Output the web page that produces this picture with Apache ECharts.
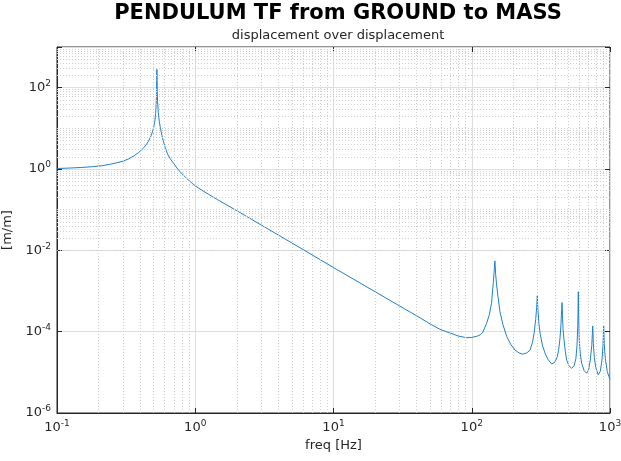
<!DOCTYPE html>
<html lang="en">
<head>
    <meta charset="UTF-8">
    <title>PENDULUM TF</title>
    <script src="https://cdn.jsdelivr.net/npm/echarts@6/dist/echarts.min.js"></script>
    <style>
        body { margin: 0; background: #ffffff; }
    </style>
</head>
<body>
    <div id="chart" style="width: 621px; height: 461px;"></div>

    <script>
        // frequency [Hz] and magnitude [m/m]
        const freq = [
            0.1, 0.12, 0.15, 0.18, 0.21, 0.24, 0.27, 0.3, 0.33, 0.36, 0.39, 0.42, 0.44, 0.46, 0.48, 0.49,
            0.5, 0.51, 0.517, 0.522, 0.525, 0.527, 0.528, 0.529, 0.531, 0.534, 0.54, 0.55, 0.56, 0.575,
            0.59, 0.61, 0.63, 0.66, 0.7, 0.75, 0.8, 0.87, 0.95, 1.0, 1.1, 1.25, 1.45, 1.7,
            2, 3, 5, 10, 20, 30, 40, 50, 59, 70, 80, 92, 100, 110, 115, 120, 128, 134, 139, 143, 145, 147,
            149, 151, 155, 160, 168, 179, 192, 206, 220, 233, 250, 264, 275, 283, 290, 295, 298,
            301, 306, 312, 325, 339, 355, 379, 400, 415, 425, 435, 442, 447, 450,
            453, 458, 465, 475, 486, 505, 528, 550, 567, 577, 585, 590,
            594, 600, 610, 624, 650, 678, 700, 720, 738, 750,
            758, 770, 790, 822, 850, 875, 890, 900, 908, 925, 955, 980, 1000
        ];
        const mag = [
            1.03, 1.05, 1.09, 1.14, 1.2, 1.3, 1.42, 1.55, 1.78, 2.1, 2.55, 3.2, 3.9, 4.9, 6.6, 8.2,
            10.5, 15, 23, 40, 75, 150, 280, 160, 80, 45, 25, 14.5, 10, 6.5,
            4.6, 3.2, 2.35, 1.78, 1.35, 0.98, 0.77, 0.58, 0.445, 0.385, 0.31, 0.238, 0.176, 0.129,
            0.094, 0.042, 0.0152, 3.77e-3, 9.6e-4, 4.3e-4, 2.45e-4, 1.55e-4, 1.14e-4, 9.2e-5, 7.8e-5, 7.1e-5, 7.2e-5, 7.8e-5, 8.3e-5, 9.5e-5, 1.6e-4, 2.6e-4, 5e-4, 1.55e-3, 2.8e-3, 5.5e-3,
            2.5e-3, 1.5e-3, 7e-4, 3.1e-4, 1.5e-4, 7.6e-5, 4.8e-5, 3.5e-5, 3e-5, 2.8e-5, 3e-5, 3.5e-5, 5.5e-5, 9.5e-5, 2e-4, 4e-4, 7.6e-4,
            3.5e-4, 1.6e-4, 9.1e-5, 4.5e-5, 2.95e-5, 2.1e-5, 1.6e-5, 1.8e-5, 2.4e-5, 3.5e-5, 7e-5, 1.5e-4, 3.5e-4, 5.2e-4,
            2.5e-4, 1.1e-4, 6.3e-5, 3.3e-5, 2e-5, 1.45e-5, 1.26e-5, 1.45e-5, 2.2e-5, 4.5e-5, 1.4e-4, 9.6e-4,
            2e-4, 6e-5, 2.8e-5, 1.67e-5, 1.1e-5, 9.5e-6, 1.15e-5, 2e-5, 4.5e-5, 1.38e-4,
            5e-5, 2.3e-5, 1.3e-5, 8.7e-6, 1.05e-5, 2e-5, 4.5e-5, 1.38e-4, 5e-5, 2.2e-5, 1.05e-5, 8e-6, 6.8e-6
        ];

        const xRange = [0.1, 1000];
        const yRange = [1e-6, 1e3];

        // minor grid: 2..9 within every decade, plus odd decades on y
        const minorX = [];
        for (let d = -1; d < 3; d++) {
            for (let k = 2; k <= 9; k++) minorX.push(k * Math.pow(10, d));
        }
        const minorY = [];
        for (let d = -6; d < 3; d++) {
            for (let k = 1; k <= 9; k++) {
                if (k === 1 && d % 2 === 0) continue;
                minorY.push(k * Math.pow(10, d));
            }
        }

        const font = 'DejaVu Sans';
        const ink = '#262626';

        function powLabel(v) {
            const e = Math.round(Math.log10(v));
            return '10{s|' + e + '}';
        }
        const supRich = { s: { fontFamily: font, fontSize: 9, verticalAlign: 'bottom', padding: [0, 0, 8, 0], color: ink } };

        // mirror axes on top / right, ticks only (box look)
        function mirror(extra) {
            return Object.assign({
                type: 'log', logBase: 10,
                axisLine: { show: false },
                axisTick: { inside: true, length: 5, lineStyle: { color: ink } },
                axisLabel: { show: false },
                splitLine: { show: false }
            }, extra);
        }

        const chart = echarts.init(document.getElementById('chart'));

        const option = {
            animation: false,
            title: [
                {
                    text: 'PENDULUM TF from GROUND to MASS',
                    left: 333, top: -2, textAlign: 'center',
                    textStyle: { fontFamily: font, fontSize: 21, fontWeight: 'bold', color: '#000000' }
                },
                {
                    text: 'displacement over displacement',
                    left: 333, top: 24, textAlign: 'center',
                    textStyle: { fontFamily: font, fontSize: 13, fontWeight: 'normal', color: ink }
                }
            ],
            grid: {
                left: 57, right: 11, top: 47, bottom: 48,
                outerBoundsMode: 'none',
                show: true, borderColor: ink, borderWidth: 1
            },
            xAxis: [
                {
                    type: 'log', logBase: 10,
                    min: xRange[0], max: xRange[1],
                    interval: 1,
                    name: 'freq [Hz]', nameLocation: 'middle', nameGap: 26,
                    nameTextStyle: { fontFamily: font, fontSize: 13, color: ink },
                    axisLine: { lineStyle: { color: ink } },
                    axisTick: { inside: true, length: 5, lineStyle: { color: ink } },
                    axisLabel: {
                        fontFamily: font, fontSize: 13, color: ink, margin: 6,
                        formatter: powLabel,
                        rich: supRich
                    },
                    splitLine: { show: true, lineStyle: { color: '#dedede', width: 1 } }
                },
                mirror({ position: 'top', min: xRange[0], max: xRange[1], interval: 1 })
            ],
            yAxis: [
                {
                    type: 'log', logBase: 10,
                    min: yRange[0], max: yRange[1],
                    interval: 2,
                    name: '[m/m]', nameLocation: 'middle', nameGap: 37,
                    nameTextStyle: { fontFamily: font, fontSize: 13, color: ink },
                    axisLine: { lineStyle: { color: ink } },
                    axisTick: { inside: true, length: 5, lineStyle: { color: ink } },
                    axisLabel: {
                        fontFamily: font, fontSize: 13, color: ink, margin: 6,
                        formatter: function (v) {
                            return Math.round(Math.log10(v)) === 3 ? '' : powLabel(v);
                        },
                        rich: supRich
                    },
                    splitLine: { show: true, lineStyle: { color: '#dedede', width: 1 } }
                },
                mirror({ position: 'right', min: yRange[0], max: yRange[1], interval: 2 })
            ],
            series: [
                {
                    name: 'minor grid',
                    type: 'line',
                    data: [],
                    silent: true,
                    z: 1,
                    markLine: {
                        silent: true,
                        symbol: ['none', 'none'],
                        label: { show: false },
                        lineStyle: { color: '#cfcfcf', type: [1, 2], width: 1 },
                        emphasis: { disabled: true },
                        data: minorX.map(v => ({ xAxis: v })).concat(minorY.map(v => ({ yAxis: v })))
                    }
                },
                {
                    name: 'TF',
                    type: 'line',
                    data: freq.map((f, i) => [f, mag[i]]),
                    showSymbol: false,
                    z: 3,
                    lineStyle: { color: '#1f80cc', width: 1 }
                }
            ]
        };

        chart.setOption(option);
    </script>
</body>
</html>
